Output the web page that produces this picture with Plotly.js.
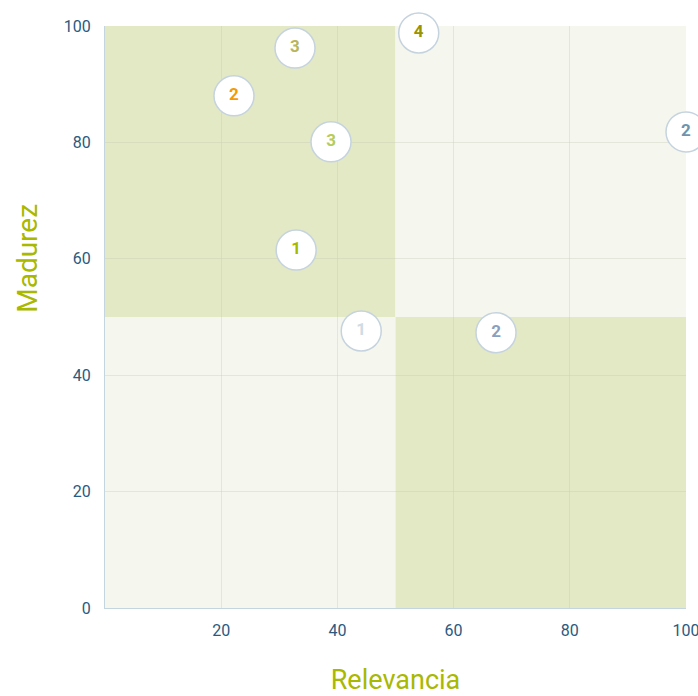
<!DOCTYPE html>
<html>
<head>
<meta charset="utf-8">
<script src="https://cdn.plot.ly/plotly-3.0.1.min.js"></script>
<style>html,body{margin:0;padding:0;background:#fff;}#chart{width:698px;height:696px;}</style>
</head>
<body>
<div id="chart"></div>
<script>
const relevancia = [32.7, 54.0, 22.2, 38.9, 100, 32.9, 44.1, 67.3];
const madurez    = [96.2, 98.8, 88.0, 80.1, 81.8, 61.5, 47.6, 47.3];
const etiquetas  = ["3", "4", "2", "3", "2", "1", "1", "2"];
const colores    = ["#b9b55a", "#9a9400", "#f59b00", "#b6cc5a", "#6f93ad", "#a6b800", "#cfdbe5", "#8a9fc0"];
const xTicks = [20, 40, 60, 80, 100];
const yTicks = [0, 20, 40, 60, 80, 100];

const dark = "#e3e8c5", light = "#f5f7ee";
const quad = (x0, x1, y0, y1, c) => ({type: "rect", xref: "x", yref: "y", x0, x1, y0, y1,
  fillcolor: c, line: {width: 0}, layer: "below"});

const trace = {
  x: relevancia, y: madurez, text: etiquetas,
  type: "scatter", mode: "markers+text", cliponaxis: false,
  textposition: "middle center",
  textfont: {family: "Roboto, Arial, sans-serif", size: 17, color: colores, weight: "bold"},
  marker: {size: 40, color: "#ffffff", line: {color: "#c5d3df", width: 1.5}},
  hoverinfo: "none"
};

const layout = {
  width: 698, height: 696,
  margin: {l: 105, r: 12, t: 26, b: 88},
  paper_bgcolor: "#ffffff", plot_bgcolor: "#ffffff",
  showlegend: false,
  font: {family: "Roboto, Arial, sans-serif"},
  xaxis: {
    range: [0, 100], tickvals: xTicks, ticktext: xTicks.map(String),
    showgrid: true, gridcolor: "rgba(200,205,185,0.4)", gridwidth: 1,
    zeroline: false, showline: true, linecolor: "#c5d5e0", linewidth: 1,
    ticks: "outside", ticklen: 8, tickcolor: "rgba(0,0,0,0)",
    ticklabeloverflow: "allow",
    tickfont: {size: 16, color: "#2a5a80"},
    title: {text: "Relevancia", font: {size: 27, color: "#a9b800"}, standoff: 38},
    fixedrange: true
  },
  yaxis: {
    range: [0, 100], tickvals: yTicks, ticktext: yTicks.map(String),
    showgrid: true, gridcolor: "rgba(200,205,185,0.4)", gridwidth: 1,
    zeroline: false, showline: true, linecolor: "#c5d5e0", linewidth: 1,
    ticks: "outside", ticklen: 10, tickcolor: "rgba(0,0,0,0)",
    ticklabeloverflow: "allow",
    tickfont: {size: 16, color: "#2a5a80"},
    fixedrange: true
  },
  shapes: [
    quad(0, 50, 50, 100, dark),
    quad(50, 100, 50, 100, light),
    quad(0, 50, 0, 50, light),
    quad(50, 100, 0, 50, dark)
  ],
  annotations: [{
    text: "Madurez", textangle: -90, showarrow: false,
    xref: "paper", yref: "y", x: 0, y: 60, xanchor: "center", yanchor: "middle",
    xshift: -77, font: {size: 28, color: "#a9b800"}
  }]
};

Plotly.newPlot("chart", [trace], layout, {displayModeBar: false, staticPlot: true});
</script>
</body>
</html>
